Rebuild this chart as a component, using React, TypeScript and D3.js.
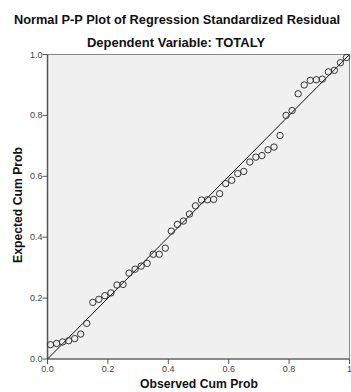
import React from "react";
import * as d3 from "d3";

const observed = [
  0.01, 0.03, 0.05, 0.07, 0.09, 0.11, 0.13, 0.15, 0.17, 0.19,
  0.21, 0.23, 0.25, 0.27, 0.29, 0.31, 0.33, 0.35, 0.37, 0.39,
  0.41, 0.43, 0.45, 0.47, 0.49, 0.51, 0.53, 0.55, 0.57, 0.59,
  0.61, 0.63, 0.65, 0.67, 0.69, 0.71, 0.73, 0.75, 0.77, 0.79,
  0.81, 0.83, 0.85, 0.87, 0.89, 0.91, 0.93, 0.95, 0.97, 0.99,
];
const expected = [
  0.047, 0.051, 0.056, 0.060, 0.067, 0.082, 0.117, 0.186, 0.196, 0.208,
  0.217, 0.243, 0.245, 0.282, 0.295, 0.305, 0.314, 0.344, 0.344, 0.364,
  0.420, 0.442, 0.453, 0.476, 0.503, 0.522, 0.523, 0.524, 0.543, 0.576,
  0.587, 0.609, 0.616, 0.647, 0.663, 0.668, 0.687, 0.696, 0.734, 0.800,
  0.816, 0.871, 0.900, 0.915, 0.917, 0.919, 0.943, 0.948, 0.973, 0.990,
];
const xTicks = [0, 0.2, 0.4, 0.6, 0.8, 1];
const xTickLabels = ["0.0", "0.2", "0.4", "0.6", "0.8", "1"];
const yTicks = [0, 0.2, 0.4, 0.6, 0.8, 1];
const yTickLabels = ["0.0", "0.2", "0.4", "0.6", "0.8", "1.0"];

const W = 351;
const H = 392;
const L = 47.5;
const R = 349.5;
const T = 54.5;
const B = 359;

export default function App() {
  const x = d3.scaleLinear().domain([0, 1]).range([L, R]);
  const y = d3.scaleLinear().domain([0, 1]).range([B, T]);
  const font = "'Liberation Sans', Arial, sans-serif";
  return (
    <svg
      width={W}
      height={H}
      style={{ position: "absolute", left: 0, top: 0, background: "#fff" }}
      fontFamily={font}
    >
      <text x={177} y={23.5} textAnchor="middle" fontSize={12.8} fontWeight="bold" fill="#111">
        Normal P-P Plot of Regression Standardized Residual
      </text>
      <text x={176} y={47} textAnchor="middle" fontSize={13} fontWeight="bold" fill="#111">
        Dependent Variable: TOTALY
      </text>
      <rect x={L} y={T} width={R - L} height={B - T} fill="#f0f0f0" stroke="#888" strokeWidth={1} />
      <line x1={L} y1={T} x2={L} y2={B} stroke="#555" strokeWidth={1.5} />
      <line x1={L} y1={B} x2={R} y2={B} stroke="#777" strokeWidth={1.5} />
      {yTicks.map((t, i) => (
        <g key={"y" + i}>
          <line x1={L - 5} x2={L} y1={y(t)} y2={y(t)} stroke="#555" />
          <text x={L - 5} y={y(t) + 3} textAnchor="end" fontSize={9} fill="#444">
            {yTickLabels[i]}
          </text>
        </g>
      ))}
      {xTicks.map((t, i) => (
        <g key={"x" + i}>
          <line x1={x(t)} x2={x(t)} y1={B} y2={B + 5} stroke="#555" />
          <text x={x(t)} y={B + 12.5} textAnchor="middle" fontSize={9} fill="#444">
            {xTickLabels[i]}
          </text>
        </g>
      ))}
      <line x1={x(0)} y1={y(0)} x2={x(1)} y2={y(1)} stroke="#111" strokeWidth={1} />
      {observed.map((o, i) => (
        <circle key={i} cx={x(o)} cy={y(expected[i])} r={3.2} fill="none" stroke="#333" strokeWidth={1} />
      ))}
      <text x={199} y={388} textAnchor="middle" fontSize={12.2} fontWeight="bold" fill="#111">
        Observed Cum Prob
      </text>
      <text
        transform={`translate(22, 205) rotate(-90)`}
        textAnchor="middle"
        fontSize={12.2}
        fontWeight="bold"
        fill="#111"
      >
        Expected Cum Prob
      </text>
    </svg>
  );
}
